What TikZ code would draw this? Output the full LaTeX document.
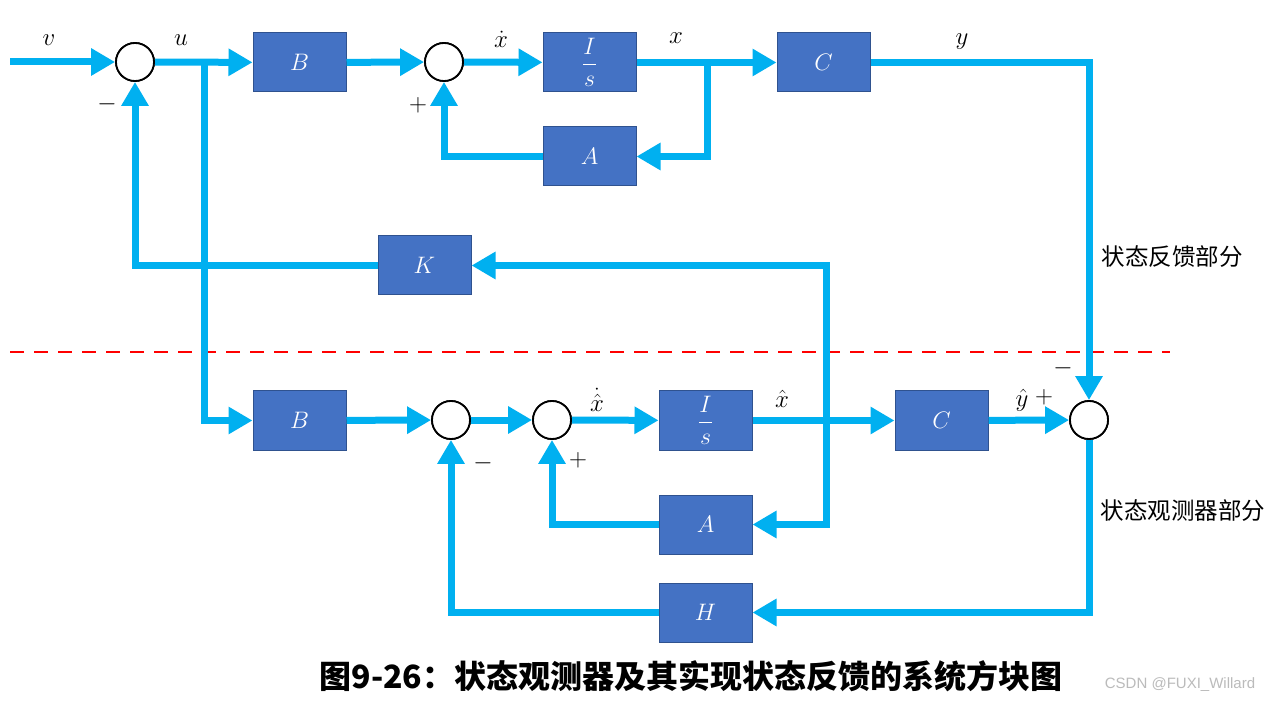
\documentclass[tikz,border=0pt]{standalone}
\usepackage{fontspec}
\usetikzlibrary{arrows.meta}
\newfontfamily\cjk{Noto Sans CJK SC}
\newfontfamily\wmfont{Liberation Sans}
\definecolor{sigc}{HTML}{00B0F0}
\definecolor{blkfill}{HTML}{4472C4}
\definecolor{blkborder}{HTML}{2F528F}
\definecolor{dashred}{HTML}{FF0000}
\definecolor{wmgray}{HTML}{BBBBBB}
\newcommand{\lblsc}[1]{\scalebox{1.2}{#1}}
\newcommand{\blksc}[1]{\scalebox{1.15}{#1}}
\tikzset{
  blk/.style={draw=blkborder, fill=blkfill, line width=1pt, minimum width=93pt, minimum height=59pt, inner sep=0pt, text=white, font=\fontsize{20}{24}\selectfont},
  sumc/.style={circle, draw=black, line width=1.8pt, minimum size=38pt, inner sep=0pt, fill=white},
  sig/.style={line width=7pt, draw=sigc, -{Triangle[length=24pt,width=26pt]}},
  mlab/.style={font=\fontsize{20}{24}\selectfont, inner sep=0pt},
  cjklab/.style={font=\cjk\fontsize{23.5}{27}\selectfont, inner sep=0pt},
}
\begin{document}
\begin{tikzpicture}[x=1pt,y=-1pt]
\path[use as bounding box, fill=white] (0,0) rectangle (1275,703);
% blocks
\node[blk] (B1) at (299.5,62.5) {\blksc{$B$}};
\node[blk] (I1) at (589.5,62.5) {\blksc{$\displaystyle\frac{I}{s}$}};
\node[blk] (C1) at (823.5,62.5) {\blksc{$C$}};
\node[blk] (A1) at (589.5,156.5) {\blksc{$A$}};
\node[blk] (K) at (424.5,265.5) {\blksc{$K$}};
\node[blk] (B2) at (299.5,420.5) {\blksc{$B$}};
\node[blk] (I2) at (705.5,420.5) {\blksc{$\displaystyle\frac{I}{s}$}};
\node[blk] (C2) at (941.5,420.5) {\blksc{$C$}};
\node[blk] (A2) at (705.5,524.5) {\blksc{$A$}};
\node[blk] (H) at (705.5,612.5) {\blksc{$H$}};
% sums
\node[sumc] (s1) at (135,62) {};
\node[sumc] (s2) at (444,62) {};
\node[sumc] (s3) at (451,420) {};
\node[sumc] (s4) at (552,420) {};
\node[sumc] (s5) at (1089,420) {};
% coordinates
\coordinate (in) at (10,62);
\coordinate (j1) at (204,62);
\coordinate (j2) at (707,62);
\coordinate (j4) at (826,420);
% dashed separator
\coordinate (dl) at (10,352);
\coordinate (dr) at (1170,352);
\draw[dashred, line width=2.5pt, dash pattern=on 14pt off 10pt] (dl) -- (dr);
% connectors
\draw[sig] (in) -- (s1);
\draw[sig] (s1) -- (B1);
\draw[sig] (B1) -- (s2);
\draw[sig] (s2) -- (I1);
\draw[sig] (I1) -- (C1);
\draw[sig] (C1.east) -| (s5.north);
\draw[sig] (j2) |- (A1.east);
\draw[sig] (A1.west) -| (s2.south);
\draw[sig] (j1) |- (B2.west);
\draw[sig] (B2) -- (s3);
\draw[sig] (s3) -- (s4);
\draw[sig] (s4) -- (I2);
\draw[sig] (I2) -- (C2);
\draw[sig] (C2) -- (s5);
\draw[sig] (j4) |- (K.east);
\draw[sig] (j4) |- (A2.east);
\draw[sig] (K.west) -| (s1.south);
\draw[sig] (A2.west) -| (s4.south);
\draw[sig] (s5.south) |- (H.east);
\draw[sig] (H.west) -| (s3.south);
% redraw sum circles on top
\foreach \s in {s1,s2,s3,s4,s5} \draw[black, line width=1.8pt, fill=white] (\s) circle (19pt);
% signal labels
\node[mlab] (lv) at (49,40) {\lblsc{$v$}};
\node[mlab] (lu) at (181,40) {\lblsc{$u$}};
\node[mlab] (lxd) at (501,39) {\lblsc{$\dot{x}$}};
\node[mlab] (lx) at (676,38) {\lblsc{$x$}};
\node[mlab] (ly) at (962,42) {\lblsc{$y$}};
\node[mlab] (lxhd) at (597,400) {\lblsc{$\dot{\hat{x}}$}};
\node[mlab] (lxh) at (782,399) {\lblsc{$\hat{x}$}};
\node[mlab] (lyh) at (1022,400) {\lblsc{$\hat{y}$}};
% signs
\node[mlab] (m1) at (107,104) {\lblsc{$-$}};
\node[mlab] (p1) at (418,105) {\lblsc{$+$}};
\node[mlab] (m2) at (483,463) {\lblsc{$-$}};
\node[mlab] (p2) at (578,460) {\lblsc{$+$}};
\node[mlab] (p3) at (1044,397) {\lblsc{$+$}};
\node[mlab] (m3) at (1063,368) {\lblsc{$-$}};
% section labels
\node[cjklab] (sf) at (1172,257) {状态反馈部分};
\node[cjklab] (so) at (1183,511) {状态观测器部分};
% caption
\node[font=\cjk\bfseries\fontsize{32}{36}\selectfont, inner sep=0pt] (cap) at (691,676) {图9-26：状态观测器及其实现状态反馈的系统方块图};
% watermark
\node[font=\wmfont\fontsize{15}{18}\selectfont, text=wmgray, inner sep=0pt] (wm) at (1180,685) {CSDN @FUXI\_Willard};
\end{tikzpicture}
\end{document}
